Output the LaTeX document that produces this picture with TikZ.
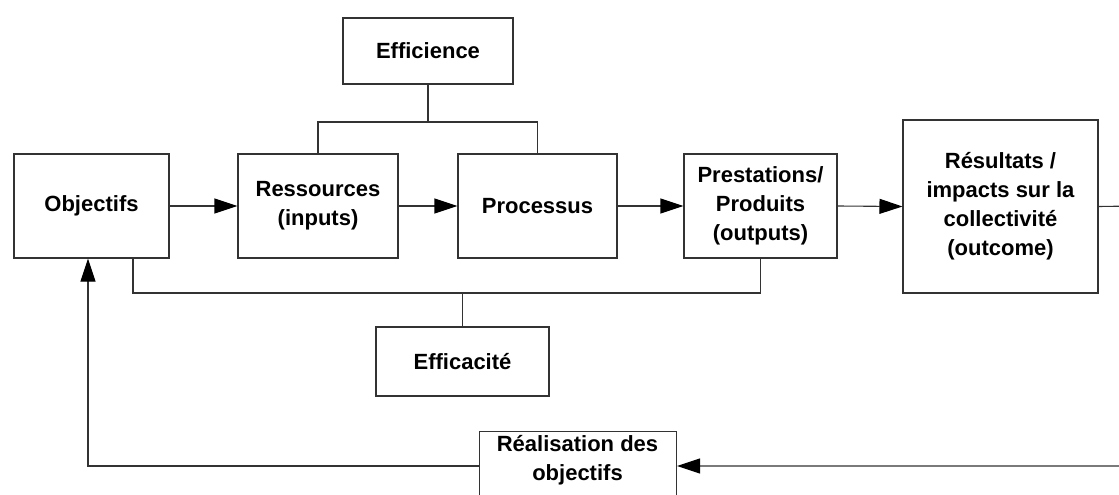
\documentclass[tikz,border=0pt]{standalone}
\usepackage{fontspec}
\setmainfont{Liberation Sans}
\usetikzlibrary{arrows.meta}
\begin{document}
\begin{tikzpicture}[x=1pt,y=-1pt,
  box/.style={draw=black!80, line width=1.1pt, fill=white, inner sep=0pt, align=center,
    font=\fontsize{22}{29}\selectfont\bfseries},
  lnk/.style={draw=black!80, line width=1.1pt},
  arr/.style={lnk, -{Triangle[length=23pt,width=15pt,color=black]}},
  lbl/.style={inner sep=0pt, align=center, font=\fontsize{22}{29}\selectfont\bfseries}]
\useasboundingbox (0,0) rectangle (1119,495);
\clip (0,0) rectangle (1119,495);
% boxes (corner coordinates in pixels)
\node[box, minimum width=155, minimum height=104] (obj)  at (91.5,206) {Objectifs};
\node[box, minimum width=160, minimum height=104] (ress) at (318,206) {Ressources\\(inputs)};
\node[box, minimum width=159, minimum height=104] (proc) at (537.5,206) {Processus};
\node[box, minimum width=153, minimum height=104] (prest) at (760.5,206) {Prestations/\\Produits\\(outputs)};
\node[box, minimum width=195, minimum height=173] (res) at (1000.5,206.5) {Résultats /\\impacts sur la\\collectivité\\(outcome)};
\node[box, minimum width=170, minimum height=66] (effi) at (428,51) {Efficience};
\node[box, minimum width=173, minimum height=69] (effa) at (462.5,361.5) {Efficacité};
\node[box, minimum width=197, minimum height=80, anchor=north west] (real) at (479,431) {};
\node[lbl] (realt) at (577.5,460) {Réalisation des\\objectifs};
% coordinates
\coordinate (rtop) at (318,122);
\coordinate (ptop) at (537.5,122);
\coordinate (etop) at (428,122);
\coordinate (obot) at (133,293);
\coordinate (pbot) at (760.5,293);
\coordinate (ebot) at (462.5,293);
\coordinate (rc1) at (1135,206);
\coordinate (rc2) at (1135,466);
\coordinate (lc1) at (88,466);
% main flow
\draw[arr] (obj.east) -- (ress.west);
\draw[arr] (ress.east) -- (proc.west);
\draw[arr] (proc.east) -- (prest.west);
\draw[arr] (prest.east) -- (res.west);
% efficience bracket
\draw[lnk] (ress.north) -- (rtop) -- (ptop) -- (proc.north);
\draw[lnk] (effi.south) -- (etop);
% efficacite bracket
\draw[lnk] (obj.south -| obot) -- (obot) -- (pbot) -- (prest.south);
\draw[lnk] (effa.north) -- (ebot);
% feedback loop
\draw[arr] (res.east) -- (rc1) -- (rc2) -- (rc2 -| real.east);
\draw[arr] (rc2 -| real.west) -- (lc1) -- (obj.south -| lc1);
\end{tikzpicture}
\end{document}
